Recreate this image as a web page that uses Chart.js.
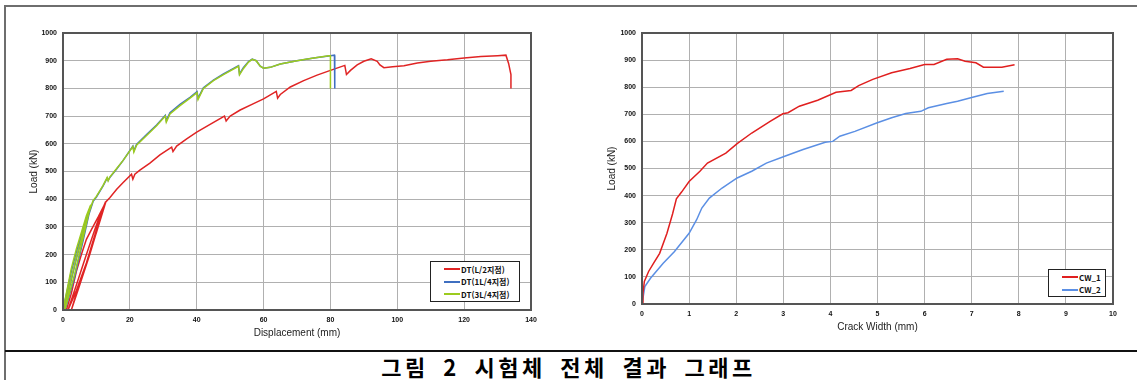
<!DOCTYPE html>
<html lang="ko">
<head>
<meta charset="UTF-8">
<title>그림 2 시험체 전체 결과 그래프</title>
<script src="https://cdn.jsdelivr.net/npm/chart.js@4.4.0/dist/chart.umd.min.js"></script>
<style>
  body {
    margin: 0;
    background: #ffffff;
    font-family: "Liberation Sans", Arial, sans-serif;
  }
  #page {
    position: relative;
    width: 1137px;
    height: 380px;
    overflow: hidden;
    background: #fff;
  }
  .rule { position: absolute; }
  canvas { position: absolute; top: 0; }
  .legend {
    position: absolute;
    box-sizing: border-box;
    border: 1.5px solid #222;
    background: #fff;
    padding: 1px 0 0 13px;
  }
  .legend .row {
    display: flex;
    align-items: center;
    height: 12.5px;
    font: bold 8px "Noto Sans CJK KR", "Liberation Sans", sans-serif;
    color: #111;
    white-space: nowrap;
  }
  .legend .swatch {
    width: 16px;
    height: 2px;
    margin-right: 1px;
  }
  #caption {
    position: absolute;
    left: 0;
    top: 352px;
    width: 1137px;
    text-align: center;
    font: bold 22px "Noto Sans CJK KR", sans-serif;
    letter-spacing: 3.5px;
    word-spacing: 5px;
    line-height: 28px;
    color: #000;
  }
</style>
</head>
<body>
<div id="page">
  <div class="rule" style="left:5px; top:5px; right:0; height:2px; background:#6e6e6e;"></div>
  <div class="rule" style="left:4px; top:5px; bottom:0; width:2px; background:#6e6e6e;"></div>
  <div class="rule" style="left:5px; top:350px; right:0; height:2px; background:#111;"></div>

  <canvas id="dispChart" width="560" height="345" style="left:0;"></canvas>
  <canvas id="crackChart" width="577" height="345" style="left:560px;"></canvas>

  <div class="legend" id="dispLegend" style="left:430px; top:261px; width:90px; height:41px;"></div>
  <div class="legend" id="crackLegend" style="left:1048px; top:269px; width:58px; height:28px;"></div>

  <div id="caption">그림 2 시험체 전체 결과 그래프</div>
</div>

<script>
// left chart: load vs displacement
const dispTicks = [0, 20, 40, 60, 80, 100, 120, 140];
const loadTicks = [0, 100, 200, 300, 400, 500, 600, 700, 800, 900, 1000];

// first cycles near the origin load and unload, then the envelope carries on
const dtHalfX = [1, 2.5, 4, 5.5, 7, 8.5, 10.5, 12.8, 10, 7, 4, 1.5, 4, 7, 9.5, 11, 12.7, 10, 7, 4, 2.5, 5, 8, 10.5, 12.2, 12.8,
  14, 16, 18, 20.5, 20.9, 21.5, 23, 26, 29, 32.5, 32.9, 34, 37, 40, 44, 48.3, 48.8, 50, 53, 57, 60, 63.8, 64.2, 65,
  68, 72, 76, 80, 84.3, 84.8, 86, 88, 90, 92.2, 94, 94.8, 96, 98.6, 102, 106, 110, 115, 120, 125, 130, 132.5, 133.3, 134, 134];
const dtHalfY = [0, 60, 140, 200, 255, 290, 335, 390, 280, 170, 70, 0, 90, 200, 290, 340, 390, 290, 170, 60, 0, 90, 200, 300, 370, 390,
  405, 435, 460, 490, 472, 490, 505, 530, 560, 588, 572, 592, 618, 642, 670, 700, 682, 700, 722, 745, 762, 789, 765, 778,
  805, 828, 848, 865, 883, 850, 865, 885, 898, 907, 898, 885, 875, 878, 882, 892, 898, 903, 910, 915, 918, 920, 890, 850, 800];

const dtQuarterX = [0, 1, 2.5, 4, 5.5, 7, 8.3, 6, 3.5, 1, 0.5, 2, 4, 6, 8, 9, 10, 12, 13.2, 13.5, 14, 16, 18, 20.9, 21.2, 22,
  25, 28, 30.6, 30.9, 32, 35, 38, 40.1, 40.4, 42, 45, 48, 52.5, 52.8, 54, 55.5, 56.6, 57.8, 59, 60, 62, 65, 70, 75, 80, 81.2, 81.3];
const dtQuarterY = [0, 55, 140, 210, 270, 330, 375, 250, 120, 15, 0, 85, 185, 275, 355, 392, 408, 448, 476, 468, 478, 508, 540, 592, 575, 598,
  633, 668, 703, 684, 712, 742, 768, 788, 765, 802, 830, 852, 882, 852, 876, 897, 906, 900, 880, 873, 876, 888, 900, 910, 918, 920, 800];

const dtThreeQX = [0, 1, 2.5, 4, 5.5, 7, 8.3, 6, 3.5, 1, 0.5, 2, 4, 6, 8, 9, 10, 12, 13.2, 13.5, 14, 16, 18, 20.9, 21.2, 22,
  25, 28, 30.6, 30.9, 32, 35, 38, 40.1, 40.4, 42, 45, 48, 52.5, 52.8, 54, 55.5, 56.6, 57.8, 59, 60, 62, 65, 70, 75, 79.5, 80, 80];
const dtThreeQY = [0, 60, 150, 220, 280, 340, 380, 260, 130, 20, 0, 90, 190, 280, 360, 395, 410, 450, 478, 466, 480, 510, 540, 590, 570, 595,
  630, 665, 700, 678, 708, 738, 765, 785, 760, 800, 828, 850, 880, 849, 872, 895, 905, 900, 880, 873, 876, 888, 900, 910, 918, 918, 800];

// right chart: load vs crack width
const crackTicks = [0, 1, 2, 3, 4, 5, 6, 7, 8, 9, 10];

const cw1X = [0, 0.02, 0.05, 0.14, 0.25, 0.375, 0.53, 0.65, 0.73, 0.84, 1.0, 1.23, 1.39, 1.78, 2.02, 2.33, 2.72, 2.99, 3.1, 3.34,
  3.73, 4.12, 4.44, 4.6, 4.9, 5.3, 5.69, 6.0, 6.2, 6.47, 6.7, 6.86, 7.09, 7.25, 7.64, 7.91];
const cw1Y = [0, 39, 83, 120, 152, 187, 261, 333, 388, 413, 452, 490, 520, 557, 592, 631, 674, 702, 706, 730,
  752, 781, 788, 806, 829, 853, 869, 884, 884, 903, 905, 896, 890, 874, 874, 883];

const cw2X = [0, 0.06, 0.18, 0.45, 0.69, 1.0, 1.16, 1.27, 1.43, 1.7, 2.02, 2.33, 2.64, 3.03, 3.42, 3.89, 4.05, 4.2, 4.52, 4.98,
  5.3, 5.6, 5.92, 6.08, 6.47, 6.7, 7.02, 7.33, 7.68];
const cw2Y = [0, 64, 95, 150, 194, 261, 311, 354, 391, 428, 465, 490, 520, 545, 570, 597, 600, 619, 637, 668,
  687, 703, 711, 724, 740, 748, 763, 777, 785];

function toPoints(xs, ys) {
  return xs.map((x, i) => ({ x: x, y: ys[i] }));
}

// box around the plot area (top and right sides are not drawn by the axes)
const plotFrame = {
  id: 'plotFrame',
  afterDraw(chart) {
    const a = chart.chartArea;
    const ctx = chart.ctx;
    ctx.save();
    ctx.strokeStyle = '#555';
    ctx.lineWidth = 2;
    ctx.strokeRect(a.left, a.top, a.right - a.left, a.bottom - a.top);
    ctx.restore();
  }
};

const tickFont = { family: '"Liberation Sans", Arial, sans-serif', size: 7, weight: 'bold' };
const titleFont = { family: '"Liberation Sans", Arial, sans-serif', size: 10 };

function makeChart(id, datasets, xTicks, cfg) {
  return new Chart(document.getElementById(id), {
    type: 'scatter',
    data: { datasets: datasets },
    options: {
      responsive: false,
      animation: false,
      layout: { padding: { left: 0, top: 33, right: cfg.padRight, bottom: 0 } },
      plugins: { legend: { display: false }, tooltip: { enabled: false } },
      elements: { point: { radius: 0 }, line: { tension: 0 } },
      scales: {
        x: {
          type: 'linear',
          min: xTicks[0],
          max: xTicks[xTicks.length - 1],
          afterBuildTicks: s => { s.ticks = xTicks.map(v => ({ value: v })); },
          afterFit: s => { s.height = cfg.xHeight; },
          grid: { color: '#b0b0b0', lineWidth: 1, drawTicks: false },
          border: { color: '#555', width: 2 },
          ticks: { font: tickFont, color: '#111', padding: 6, autoSkip: false, maxRotation: 0, callback: v => String(v) },
          title: { display: true, text: cfg.xTitle, font: titleFont, color: '#222', padding: { top: 0, bottom: cfg.xTitlePad } }
        },
        y: {
          type: 'linear',
          min: 0,
          max: 1000,
          afterBuildTicks: s => { s.ticks = loadTicks.map(v => ({ value: v })); },
          afterFit: s => { s.width = cfg.yWidth; },
          grid: { color: '#b0b0b0', lineWidth: 1, drawTicks: false },
          border: { color: '#555', width: 2 },
          ticks: { font: tickFont, color: '#111', padding: 6, autoSkip: false, callback: v => String(v) },
          title: { display: true, text: 'Load (kN)', font: titleFont, color: '#222', padding: { top: cfg.yTitlePad, bottom: 0 } }
        }
      }
    },
    plugins: [plotFrame]
  });
}

function line(label, xs, ys, color, order) {
  return {
    label: label,
    data: toPoints(xs, ys),
    showLine: true,
    borderColor: color,
    backgroundColor: color,
    borderWidth: 1.5,
    pointRadius: 0,
    order: order
  };
}

const dispSets = [
  line('DT(L/2지점)', dtHalfX, dtHalfY, '#e02424', 2),
  line('DT(1L/4지점)', dtQuarterX, dtQuarterY, '#3f6fc0', 1),
  line('DT(3L/4지점)', dtThreeQX, dtThreeQY, '#9ccb1e', 0)
];
const crackSets = [
  line('CW_1', cw1X, cw1Y, '#e01f1f', 0),
  line('CW_2', cw2X, cw2Y, '#5b8fe4', 1)
];

makeChart('dispChart', dispSets, dispTicks, {
  padRight: 29, xHeight: 35, yWidth: 63, xTitle: 'Displacement (mm)', xTitlePad: 6, yTitlePad: 28
});
makeChart('crackChart', crackSets, crackTicks, {
  padRight: 24, xHeight: 41, yWidth: 82, xTitle: 'Crack Width (mm)', xTitlePad: 12, yTitlePad: 46
});

function buildLegend(id, sets) {
  const box = document.getElementById(id);
  sets.forEach(ds => {
    const row = document.createElement('div');
    row.className = 'row';
    const sw = document.createElement('span');
    sw.className = 'swatch';
    sw.style.background = ds.borderColor;
    const txt = document.createElement('span');
    txt.textContent = ds.label;
    row.appendChild(sw);
    row.appendChild(txt);
    box.appendChild(row);
  });
}
buildLegend('dispLegend', dispSets);
buildLegend('crackLegend', crackSets);
</script>
</body>
</html>
